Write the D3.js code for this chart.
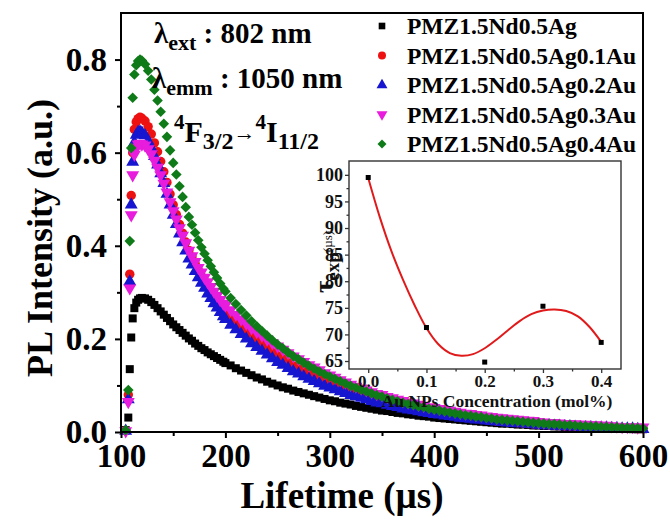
<!DOCTYPE html>
<html>
<head>
<meta charset="utf-8">
<script src="https://cdn.jsdelivr.net/npm/d3@7"></script>
<style>
body { margin: 0; background: #fff; }
text { font-family: "Liberation Serif", "Times New Roman", serif; font-weight: bold; }
</style>
</head>
<body>
<svg id="chart" width="670" height="520"></svg>
<script>
// lifetime sampling (µs), shared by all five decay curves
var lifetime = [104.5, 107, 108.4, 109.8, 111.2, 112.8, 114.6, 116.4, 118.2,
  120, 123, 126, 129, 132, 135, 138, 141, 144, 147, 150, 153, 156, 159, 162, 165, 168, 171, 174, 177, 180, 183, 186, 189, 192, 195, 198,
  200, 205, 210, 215, 220, 225, 230, 235, 240, 245, 250, 255, 260, 265, 270, 275, 280, 285, 290, 295,
  300, 305, 310, 315, 320, 325, 330, 335, 340, 345, 350, 355, 360, 365, 370, 375, 380, 385, 390, 395,
  400, 405, 410, 415, 420, 425, 430, 435, 440, 445, 450, 455, 460, 465, 470, 475, 480, 485, 490, 495,
  500, 505, 510, 515, 520, 525, 530, 535, 540, 545, 550, 555, 560, 565, 570, 575, 580, 585, 590, 595, 600];

var plAg = [0.004, 0.031, 0.135, 0.203, 0.244, 0.266, 0.278, 0.284, 0.287,
  0.288, 0.287, 0.284, 0.279, 0.273, 0.266, 0.259, 0.252, 0.245, 0.238, 0.231, 0.225, 0.219, 0.213, 0.207, 0.201, 0.196, 0.190, 0.185, 0.180, 0.176, 0.171, 0.167, 0.163, 0.159, 0.155, 0.151,
  0.148, 0.143, 0.137, 0.132, 0.127, 0.122, 0.117, 0.113, 0.108, 0.104, 0.100, 0.096, 0.093, 0.089, 0.086, 0.083, 0.080, 0.077, 0.074, 0.071,
  0.068, 0.066, 0.063, 0.061, 0.059, 0.056, 0.054, 0.052, 0.050, 0.048, 0.046, 0.045, 0.043, 0.041, 0.040, 0.038, 0.037, 0.035, 0.034, 0.033,
  0.031, 0.030, 0.029, 0.028, 0.027, 0.026, 0.025, 0.024, 0.023, 0.022, 0.021, 0.020, 0.019, 0.018, 0.018, 0.017, 0.016, 0.016, 0.015, 0.014,
  0.014, 0.013, 0.013, 0.012, 0.012, 0.011, 0.011, 0.010, 0.010, 0.009, 0.009, 0.009, 0.008, 0.008, 0.008, 0.007, 0.007, 0.007, 0.006, 0.006, 0.006];

var plAu01 = [0.003, 0.080, 0.339, 0.508, 0.600, 0.650, 0.666, 0.673, 0.676,
  0.674, 0.668, 0.656, 0.640, 0.621, 0.602, 0.581, 0.559, 0.536, 0.511, 0.488, 0.467, 0.446, 0.427, 0.408, 0.390, 0.376, 0.362, 0.348, 0.335, 0.324, 0.312, 0.301, 0.290, 0.280, 0.270, 0.260,
  0.263, 0.251, 0.239, 0.228, 0.218, 0.207, 0.197, 0.189, 0.180, 0.171, 0.164, 0.157, 0.149, 0.142, 0.136, 0.130, 0.124, 0.118, 0.113, 0.108,
  0.104, 0.099, 0.095, 0.090, 0.086, 0.083, 0.079, 0.076, 0.072, 0.069, 0.066, 0.063, 0.060, 0.057, 0.055, 0.052, 0.050, 0.048, 0.046, 0.044,
  0.042, 0.040, 0.038, 0.037, 0.035, 0.033, 0.031, 0.030, 0.029, 0.028, 0.026, 0.025, 0.023, 0.023, 0.022, 0.021, 0.020, 0.019, 0.018, 0.017,
  0.017, 0.016, 0.015, 0.015, 0.014, 0.013, 0.013, 0.012, 0.011, 0.011, 0.010, 0.010, 0.010, 0.010, 0.009, 0.009, 0.008, 0.008, 0.008, 0.007, 0.007];

var plAu02 = [0.002, 0.070, 0.323, 0.488, 0.580, 0.622, 0.638, 0.644, 0.645,
  0.643, 0.637, 0.625, 0.610, 0.592, 0.574, 0.555, 0.534, 0.511, 0.488, 0.466, 0.446, 0.426, 0.407, 0.389, 0.372, 0.359, 0.345, 0.332, 0.320, 0.309, 0.297, 0.287, 0.276, 0.267, 0.257, 0.248,
  0.242, 0.230, 0.220, 0.210, 0.200, 0.190, 0.182, 0.174, 0.166, 0.158, 0.150, 0.144, 0.137, 0.130, 0.125, 0.119, 0.114, 0.109, 0.104, 0.099,
  0.095, 0.091, 0.087, 0.083, 0.079, 0.076, 0.073, 0.070, 0.066, 0.063, 0.061, 0.058, 0.055, 0.053, 0.050, 0.048, 0.046, 0.044, 0.042, 0.040,
  0.038, 0.037, 0.035, 0.034, 0.032, 0.030, 0.029, 0.028, 0.026, 0.026, 0.024, 0.023, 0.022, 0.021, 0.020, 0.019, 0.018, 0.018, 0.017, 0.016,
  0.015, 0.014, 0.014, 0.013, 0.013, 0.012, 0.012, 0.011, 0.010, 0.010, 0.010, 0.009, 0.009, 0.009, 0.008, 0.008, 0.007, 0.007, 0.007, 0.006, 0.006];

var plAu03 = [0.002, 0.065, 0.309, 0.466, 0.552, 0.596, 0.611, 0.618, 0.620,
  0.618, 0.616, 0.608, 0.597, 0.583, 0.568, 0.552, 0.534, 0.515, 0.494, 0.475, 0.457, 0.438, 0.422, 0.406, 0.390, 0.378, 0.366, 0.353, 0.343, 0.332, 0.322, 0.312, 0.302, 0.293, 0.284, 0.276,
  0.272, 0.262, 0.252, 0.242, 0.233, 0.223, 0.215, 0.207, 0.199, 0.191, 0.184, 0.177, 0.170, 0.163, 0.157, 0.151, 0.144, 0.139, 0.133, 0.127,
  0.122, 0.117, 0.112, 0.107, 0.102, 0.098, 0.094, 0.090, 0.086, 0.082, 0.080, 0.076, 0.073, 0.070, 0.067, 0.064, 0.062, 0.059, 0.057, 0.054,
  0.052, 0.050, 0.048, 0.046, 0.044, 0.042, 0.040, 0.039, 0.037, 0.036, 0.034, 0.033, 0.031, 0.030, 0.029, 0.028, 0.027, 0.026, 0.025, 0.024,
  0.022, 0.021, 0.020, 0.020, 0.019, 0.018, 0.018, 0.017, 0.016, 0.016, 0.015, 0.015, 0.014, 0.014, 0.013, 0.012, 0.011, 0.011, 0.011, 0.010, 0.010];

var plAu04 = [0.004, 0.090, 0.410, 0.610, 0.718, 0.768, 0.788, 0.797, 0.800,
  0.798, 0.790, 0.776, 0.757, 0.735, 0.712, 0.688, 0.662, 0.634, 0.605, 0.578, 0.553, 0.528, 0.505, 0.483, 0.462, 0.445, 0.428, 0.412, 0.397, 0.383, 0.369, 0.356, 0.343, 0.331, 0.319, 0.308,
  0.302, 0.288, 0.275, 0.262, 0.250, 0.238, 0.227, 0.217, 0.207, 0.197, 0.188, 0.180, 0.171, 0.163, 0.156, 0.149, 0.142, 0.136, 0.130, 0.124,
  0.119, 0.114, 0.109, 0.104, 0.099, 0.095, 0.091, 0.087, 0.083, 0.079, 0.076, 0.072, 0.069, 0.066, 0.063, 0.060, 0.058, 0.055, 0.053, 0.050,
  0.048, 0.046, 0.044, 0.042, 0.040, 0.038, 0.036, 0.035, 0.033, 0.032, 0.030, 0.029, 0.027, 0.026, 0.025, 0.024, 0.023, 0.022, 0.021, 0.020,
  0.019, 0.018, 0.017, 0.017, 0.016, 0.015, 0.015, 0.014, 0.013, 0.013, 0.012, 0.012, 0.011, 0.011, 0.010, 0.010, 0.009, 0.009, 0.009, 0.008, 0.008];

var sampleNames = ["PMZ1.5Nd0.5Ag", "PMZ1.5Nd0.5Ag0.1Au", "PMZ1.5Nd0.5Ag0.2Au", "PMZ1.5Nd0.5Ag0.3Au", "PMZ1.5Nd0.5Ag0.4Au"];
var sampleValues = [plAg, plAu01, plAu02, plAu03, plAu04];

var xTicks = [100, 200, 300, 400, 500, 600];
var xMinor = [150, 250, 350, 450, 550];
var yTicks = [0.0, 0.2, 0.4, 0.6, 0.8];
var yMinor = [0.1, 0.3, 0.5, 0.7];

// inset: fitted lifetime vs Au concentration
var auConc = [0.0, 0.1, 0.2, 0.3, 0.4];
var tauExp = [99.5, 71.3, 64.8, 75.3, 68.5];
var fitConc = [0, 0.02, 0.04, 0.06, 0.08, 0.10, 0.12, 0.14, 0.16, 0.18, 0.20, 0.22, 0.24, 0.26, 0.28, 0.30, 0.32, 0.34, 0.36, 0.38, 0.40];
var fitTau = [99.4, 92.0, 85.6, 80.2, 75.4, 71.2, 68.2, 66.5, 66.0, 66.3, 67.4, 69.0, 70.8, 72.5, 73.8, 74.5, 74.7, 74.4, 73.4, 71.4, 68.6];
var insetXTicks = [0.0, 0.1, 0.2, 0.3, 0.4];
var insetXMinor = [0.05, 0.15, 0.25, 0.35];
var insetYTicks = [65, 70, 75, 80, 85, 90, 95, 100];
var insetYMinor = [67.5, 72.5, 77.5, 82.5, 87.5, 92.5, 97.5];

var colors = ["#000000", "#ee1111", "#1616d0", "#e81cdc", "#0e7a18"];
var markers = [
  {type: d3.symbolSquare, size: 64, rot: 0},
  {type: d3.symbolCircle, size: 70, rot: 0},
  {type: d3.symbolTriangle, size: 72, rot: 0},
  {type: d3.symbolTriangle, size: 72, rot: 180},
  {type: d3.symbolSquare, size: 56, rot: 45}
];
var legendSizes = [44, 50, 52, 52, 40];

var svg = d3.select("#chart");

var x = d3.scaleLinear().domain([100, 600]).range([121, 643]);
var y = d3.scaleLinear().domain([0, 0.9]).range([432, 13]);

// data markers
sampleValues.forEach(function(vals, k) {
  var m = markers[k];
  var pts = lifetime.map(function(t, i) { return [t, vals[i]]; })
    .filter(function(d) { return d[1] != null; });
  svg.append("g")
    .selectAll("path")
    .data(pts)
    .enter().append("path")
      .attr("d", d3.symbol().type(m.type).size(m.size))
      .attr("fill", colors[k])
      .attr("transform", function(d) {
        return "translate(" + x(d[0]) + "," + y(d[1]) + ") rotate(" + m.rot + ")";
      });
});

// frame
svg.append("rect")
    .attr("x", x.range()[0])
    .attr("y", y.range()[1])
    .attr("width", x.range()[1] - x.range()[0])
    .attr("height", y.range()[0] - y.range()[1])
    .attr("fill", "none")
    .attr("stroke", "#000")
    .attr("stroke-width", 2);

function styleAxis(g, fontSize) {
  g.select(".domain").remove();
  g.selectAll("line").attr("stroke", "#000").attr("stroke-width", 2);
  g.selectAll("text").attr("font-size", fontSize).attr("fill", "#000");
}

var gx = svg.append("g")
    .attr("transform", "translate(0," + y(0) + ")")
    .call(d3.axisBottom(x).tickValues(xTicks).tickSize(6).tickPadding(6).tickFormat(d3.format("d")));
styleAxis(gx, 33);
var gxm = svg.append("g")
    .attr("transform", "translate(0," + y(0) + ")")
    .call(d3.axisBottom(x).tickValues(xMinor).tickSize(4).tickFormat(""));
styleAxis(gxm, 10);

var gy = svg.append("g")
    .attr("transform", "translate(" + x(100) + ",0)")
    .call(d3.axisLeft(y).tickValues(yTicks).tickSize(6).tickPadding(8).tickFormat(d3.format(".1f")));
styleAxis(gy, 33);
var gym = svg.append("g")
    .attr("transform", "translate(" + x(100) + ",0)")
    .call(d3.axisLeft(y).tickValues(yMinor).tickSize(4).tickFormat(""));
styleAxis(gym, 10);

// axis titles
svg.append("text")
    .attr("x", 342)
    .attr("y", 508)
    .attr("text-anchor", "middle")
    .attr("font-size", 37)
    .text("Lifetime (µs)");

svg.append("text")
    .attr("transform", "translate(52,238) rotate(-90)")
    .attr("text-anchor", "middle")
    .attr("font-size", 36)
    .text("PL Intensity (a.u.)");

// annotations
var a1 = svg.append("text").attr("x", 154).attr("y", 43).attr("font-size", 29);
a1.append("tspan").text("λ");
a1.append("tspan").attr("font-size", 22).attr("dy", 7).text("ext");
a1.append("tspan").attr("dy", -7).text(" : 802 nm");

var a2 = svg.append("text").attr("x", 152).attr("y", 88).attr("font-size", 29);
a2.append("tspan").text("λ");
a2.append("tspan").attr("font-size", 22).attr("dy", 7).text("emm");
a2.append("tspan").attr("dy", -7).text(" : 1050 nm");

var a3 = svg.append("text").attr("x", 174).attr("y", 142).attr("font-size", 30);
a3.append("tspan").attr("font-size", 21).attr("dy", -13).text("4");
a3.append("tspan").attr("dy", 13).text("F");
a3.append("tspan").attr("font-size", 24).attr("dy", 7).text("3/2");
a3.append("tspan").attr("font-size", 22).attr("dy", -9).text("→");
a3.append("tspan").attr("font-size", 21).attr("dy", -11).text("4");
a3.append("tspan").attr("dy", 13).text("I");
a3.append("tspan").attr("font-size", 24).attr("dy", 7).text("11/2");

// legend
var legend = svg.append("g");
sampleNames.forEach(function(name, k) {
  var cy = 26 + k * 29.5;
  var m = markers[k];
  legend.append("path")
      .attr("d", d3.symbol().type(m.type).size(legendSizes[k]))
      .attr("fill", colors[k])
      .attr("transform", "translate(382," + cy + ") rotate(" + m.rot + ")");
  legend.append("text")
      .attr("x", 407)
      .attr("y", cy + 8)
      .attr("font-size", 23.5)
      .text(name);
});

// inset
var ix = d3.scaleLinear().domain([-0.033, 0.434]).range([349, 621]);
var iy = d3.scaleLinear().domain([63.5, 102.6]).range([369, 161]);

svg.append("rect")
    .attr("x", ix.range()[0])
    .attr("y", iy.range()[1])
    .attr("width", ix.range()[1] - ix.range()[0])
    .attr("height", iy.range()[0] - iy.range()[1])
    .attr("fill", "none")
    .attr("stroke", "#333")
    .attr("stroke-width", 1.4);

function styleInset(g, fontSize) {
  g.select(".domain").remove();
  g.selectAll("line").attr("stroke", "#333").attr("stroke-width", 1.3);
  g.selectAll("text").attr("font-size", fontSize).attr("fill", "#111");
}

var ixa = svg.append("g")
    .attr("transform", "translate(0," + iy.range()[0] + ")")
    .call(d3.axisBottom(ix).tickValues(insetXTicks).tickSize(4).tickPadding(2).tickFormat(d3.format(".1f")));
styleInset(ixa, 17);
var ixm = svg.append("g")
    .attr("transform", "translate(0," + iy.range()[0] + ")")
    .call(d3.axisBottom(ix).tickValues(insetXMinor).tickSize(2.5).tickFormat(""));
styleInset(ixm, 10);

var iya = svg.append("g")
    .attr("transform", "translate(" + ix.range()[0] + ",0)")
    .call(d3.axisLeft(iy).tickValues(insetYTicks).tickSize(4).tickPadding(2).tickFormat(d3.format("d")));
styleInset(iya, 18);
var iym = svg.append("g")
    .attr("transform", "translate(" + ix.range()[0] + ",0)")
    .call(d3.axisLeft(iy).tickValues(insetYMinor).tickSize(2.5).tickFormat(""));
styleInset(iym, 10);

svg.append("path")
    .datum(d3.zip(fitConc, fitTau))
    .attr("fill", "none")
    .attr("stroke", "#e01a1a")
    .attr("stroke-width", 2)
    .attr("d", d3.line()
      .curve(d3.curveCatmullRom)
      .x(function(d) { return ix(d[0]); })
      .y(function(d) { return iy(d[1]); }));

svg.append("g")
  .selectAll("rect")
  .data(d3.zip(auConc, tauExp))
  .enter().append("rect")
    .attr("x", function(d) { return ix(d[0]) - 2.5; })
    .attr("y", function(d) { return iy(d[1]) - 2.5; })
    .attr("width", 5)
    .attr("height", 5)
    .attr("fill", "#000");

svg.append("text")
    .attr("x", 497)
    .attr("y", 407)
    .attr("text-anchor", "middle")
    .attr("font-size", 17.5)
    .attr("fill", "#111")
    .text("Au NPs Concentration (mol%)");

var it = svg.append("text")
    .attr("transform", "translate(333,262) rotate(-90)")
    .attr("text-anchor", "middle")
    .attr("font-size", 27)
    .attr("fill", "#111");
it.append("tspan").text("τ");
it.append("tspan").attr("font-size", 19).attr("dy", 6).text("exp");
it.append("tspan").attr("font-size", 13).attr("font-weight", "normal").attr("dy", -7).text("(µs)");
</script>
</body>
</html>
